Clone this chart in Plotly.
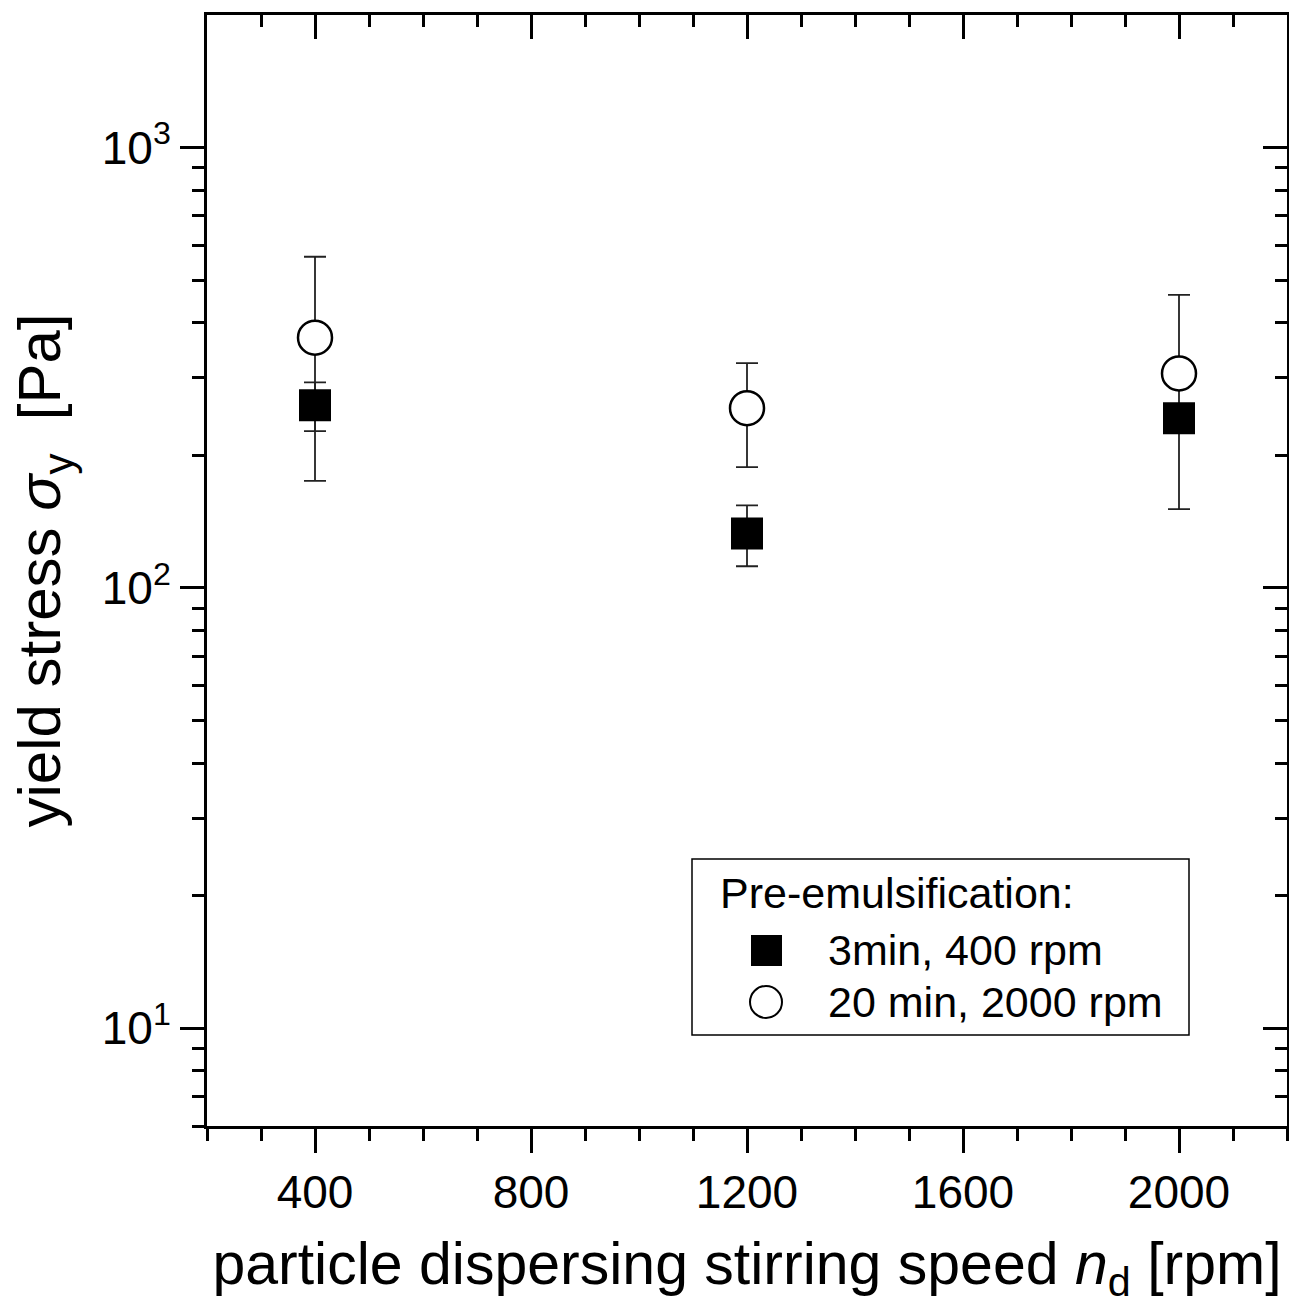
import math
import plotly.graph_objects as go

# ---- data ----
speed = [400, 1200, 2000]
square_name = "3min, 400 rpm"
square_vals = [260, 133, 243]
square_err = [33, 21, 18]
circle_name = "20 min, 2000 rpm"
circle_vals = [370, 256, 307]
circle_err = [195, 68, 156]

x_major = [400, 800, 1200, 1600, 2000]
x_minor = [v for v in range(200, 2201, 100) if v not in x_major]
y_major = [10, 100, 1000]
y_major_text = ["10<sup>1</sup>", "10<sup>2</sup>", "10<sup>3</sup>"]
y_minor = [6, 7, 8, 9] + [v * 10 for v in range(2, 10)] + [v * 100 for v in range(2, 10)]
x_range = [200, 2200]
y_range = [math.log10(6), math.log10(2000)]

legend_title = "Pre-emulsification:"
x_title = "particle dispersing stirring speed <i>n</i><sub>d</sub> [rpm]"
y_title = "yield stress <i>σ</i><sub>y</sub>\u00a0\u00a0[Pa]"

FONT = "Liberation Sans, Arial, Helvetica, sans-serif"
W, H = 1289, 1310
ML, MR, MT, MB = 207, 2, 15, 184
PW, PH = W - ML - MR, H - MT - MB


def px(xp):
    return (xp - ML) / PW


def py(yp):
    return (H - MB - yp) / PH


fig = go.Figure()

fig.add_trace(go.Scatter(
    x=speed, y=circle_vals, mode="markers", name=circle_name,
    marker=dict(symbol="circle", size=34, color="white", line=dict(color="black", width=2.5)),
    error_y=dict(type="data", array=circle_err, visible=True, color="#222222", thickness=1.8, width=11),
    showlegend=False,
))
fig.add_trace(go.Scatter(
    x=speed, y=square_vals, mode="markers", name=square_name,
    marker=dict(symbol="square", size=32, color="black", line=dict(color="black", width=0)),
    error_y=dict(type="data", array=square_err, visible=True, color="#222222", thickness=1.8, width=11),
    showlegend=False,
))
# invisible helpers so the mirrored top / right frame axes get drawn
fig.add_trace(go.Scatter(x=speed, y=square_vals, xaxis="x2", yaxis="y", mode="markers",
                         marker=dict(opacity=0), hoverinfo="skip", showlegend=False))
fig.add_trace(go.Scatter(x=speed, y=square_vals, xaxis="x", yaxis="y2", mode="markers",
                         marker=dict(opacity=0), hoverinfo="skip", showlegend=False))

axis_common = dict(showline=True, linecolor="black", linewidth=3, showgrid=False, zeroline=False,
                   tickcolor="black", tickwidth=3, ticklen=24)

fig.update_layout(
    width=W, height=H,
    margin=dict(l=ML, r=MR, t=MT, b=MB),
    paper_bgcolor="white", plot_bgcolor="white",
    font=dict(family=FONT, color="black", size=46),
    xaxis=dict(
        **axis_common, range=x_range, ticks="outside",
        tickmode="array", tickvals=x_major, ticktext=[str(v) for v in x_major],
        minor=dict(tickmode="array", tickvals=x_minor, ticks="outside", ticklen=12,
                   tickwidth=3, tickcolor="black", showgrid=False),
        tickfont=dict(size=46, family=FONT),
        title=dict(text=x_title, font=dict(size=59, family=FONT), standoff=26),
        automargin=False,
    ),
    yaxis=dict(
        **axis_common, type="log", range=y_range, ticks="outside",
        tickmode="array", tickvals=y_major, ticktext=y_major_text,
        minor=dict(tickmode="array", tickvals=y_minor, ticks="outside", ticklen=12,
                   tickwidth=3, tickcolor="black", showgrid=False),
        tickfont=dict(size=46, family=FONT),
        title=dict(text=y_title, font=dict(size=60, family=FONT), standoff=22),
        automargin=False,
    ),
    xaxis2=dict(
        **axis_common, range=x_range, overlaying="x", side="top", anchor="y", ticks="inside",
        tickmode="array", tickvals=x_major, showticklabels=False,
        minor=dict(tickmode="array", tickvals=x_minor, ticks="inside", ticklen=12,
                   tickwidth=3, tickcolor="black", showgrid=False),
    ),
    yaxis2=dict(
        **axis_common, type="log", range=y_range, overlaying="y", side="right", anchor="x", ticks="inside",
        tickmode="array", tickvals=y_major, showticklabels=False,
        minor=dict(tickmode="array", tickvals=y_minor, ticks="inside", ticklen=12,
                   tickwidth=3, tickcolor="black", showgrid=False),
    ),
)

# ---- manual legend (large symbols like the original) ----
shapes = [
    dict(type="rect", xref="paper", yref="paper", x0=px(692), x1=px(1189), y0=py(1035), y1=py(859),
         line=dict(color="black", width=1.5), fillcolor="white", layer="above"),
    dict(type="rect", xref="paper", yref="paper", x0=px(751), x1=px(782), y0=py(966), y1=py(935),
         line=dict(color="black", width=0), fillcolor="black", layer="above"),
    dict(type="circle", xref="paper", yref="paper", x0=px(750), x1=px(782), y0=py(1018), y1=py(986),
         line=dict(color="black", width=2), fillcolor="white", layer="above"),
]
annotations = [
    dict(text=legend_title, xref="paper", yref="paper", x=px(718), y=py(893),
         xanchor="left", yanchor="middle", showarrow=False, font=dict(size=43, family=FONT)),
    dict(text=square_name, xref="paper", yref="paper", x=px(826), y=py(950),
         xanchor="left", yanchor="middle", showarrow=False, font=dict(size=43, family=FONT)),
    dict(text=circle_name, xref="paper", yref="paper", x=px(826), y=py(1002),
         xanchor="left", yanchor="middle", showarrow=False, font=dict(size=43, family=FONT)),
]
fig.update_layout(shapes=shapes, annotations=annotations)

fig.write_html("out.html", config={"displayModeBar": False},
               post_script="document.body.style.margin='0';")
